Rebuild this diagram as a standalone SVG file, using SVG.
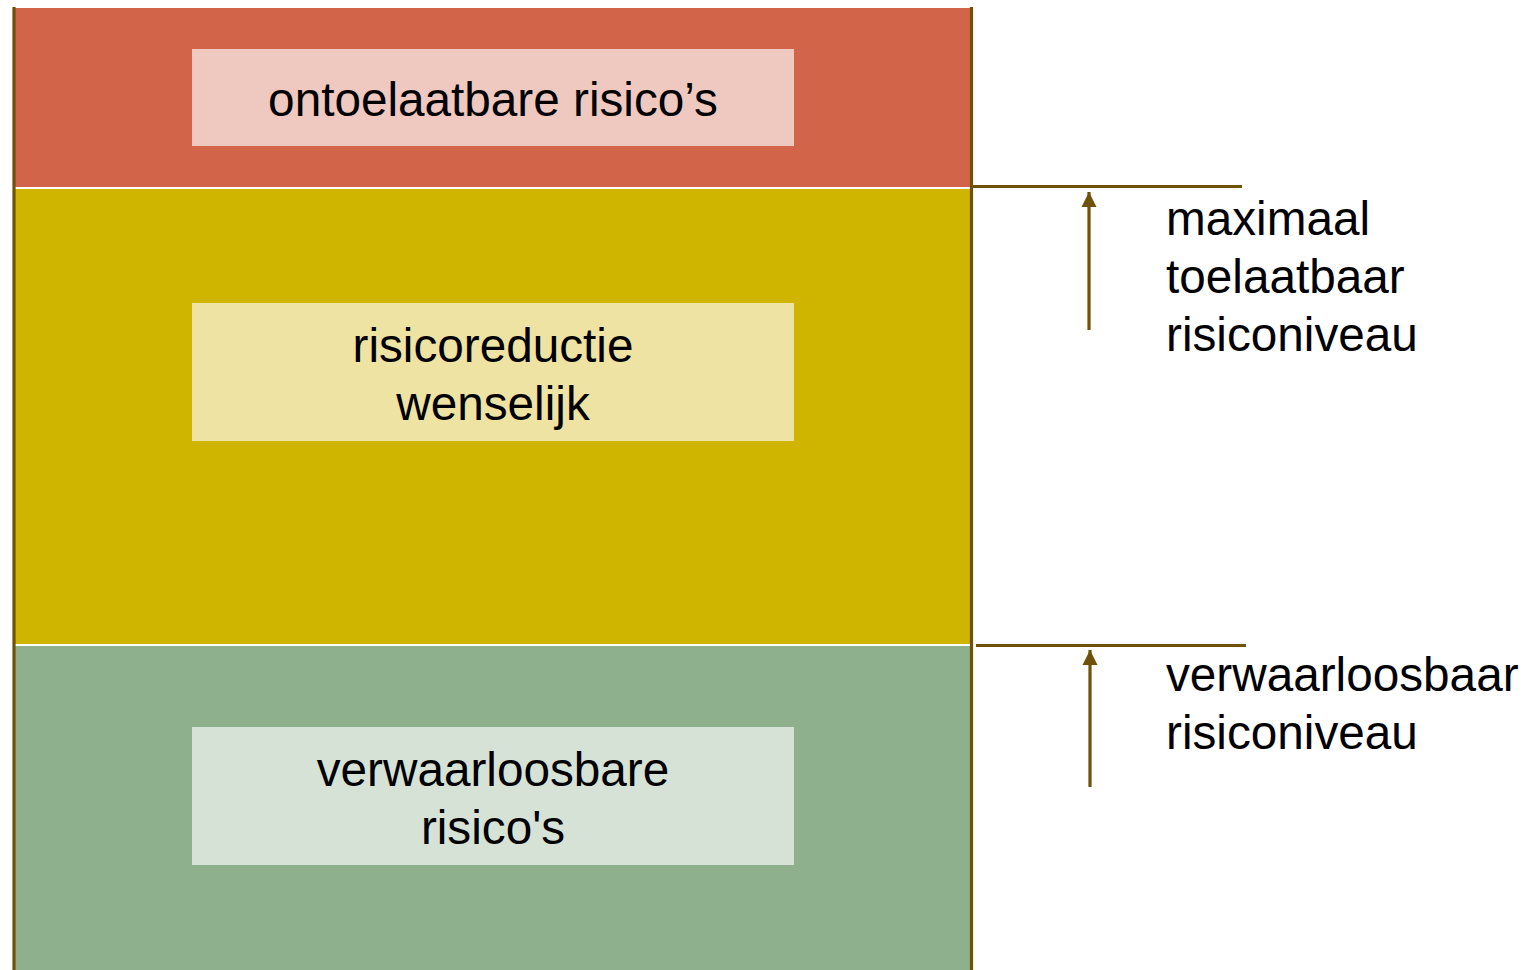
<svg xmlns="http://www.w3.org/2000/svg" width="1524" height="970" viewBox="0 0 1524 970">
<style>
.t{font-family:"Liberation Sans",Arial,sans-serif;font-size:47.7px;fill:#000}
.c{text-anchor:middle}
.ln{stroke:#6F5108;stroke-width:3.2;fill:none}
</style>
<defs>
<marker id="ah" viewBox="0 0 10 10" refX="10" refY="5" markerWidth="4.8" markerHeight="4.8" orient="auto" markerUnits="strokeWidth">
<path d="M0,0 L10,5 L0,10 Z" fill="#6F5108"/>
</marker>
</defs>
<rect width="1524" height="970" fill="#fff"/>
<g id="band-red"><rect x="14" y="8" width="957" height="179" fill="#D2644A"/></g>
<g id="band-yellow"><rect x="14" y="189" width="957" height="455" fill="#CFB500"/></g>
<g id="band-green"><rect x="14" y="646" width="957" height="324" fill="#8FB08D"/></g>
<g id="node-ontoelaatbaar">
<rect x="192" y="49" width="602" height="97" fill="#EFC8BF"/>
<text class="t c" x="493" y="116">ontoelaatbare risico’s</text>
</g>
<g id="node-reductie">
<rect x="192" y="303" width="602" height="138" fill="#EEE3A3"/>
<text class="t c" x="493" y="362">risicoreductie</text>
<text class="t c" x="493" y="420">wenselijk</text>
</g>
<g id="node-verwaarloosbaar">
<rect x="192" y="727" width="602" height="138" fill="#D6E2D6"/>
<text class="t c" x="493" y="786">verwaarloosbare</text>
<text class="t c" x="493" y="844">risico's</text>
</g>
<g id="label-max">
<text class="t" x="1166" y="235">maximaal</text>
<text class="t" x="1166" y="293">toelaatbaar</text>
<text class="t" x="1166" y="351">risiconiveau</text>
</g>
<g id="label-verw">
<text class="t" x="1166" y="691">verwaarloosbaar</text>
<text class="t" x="1166" y="749">risiconiveau</text>
</g>
<g id="connectors">
<line class="ln" x1="14" y1="7" x2="14" y2="970"/>
<line class="ln" x1="971.5" y1="7" x2="971.5" y2="970"/>
<line class="ln" x1="973" y1="186.5" x2="1242" y2="186.5"/>
<line class="ln" x1="976" y1="645.5" x2="1246" y2="645.5"/>
<line class="ln" x1="1089" y1="330" x2="1089" y2="192" marker-end="url(#ah)"/>
<line class="ln" x1="1090" y1="787" x2="1090" y2="650" marker-end="url(#ah)"/>
</g>
</svg>
